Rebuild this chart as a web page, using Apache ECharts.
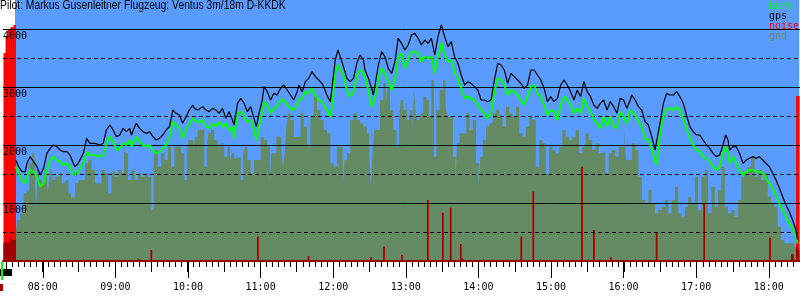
<!DOCTYPE html>
<html><head><meta charset="utf-8">
<script src="https://cdn.jsdelivr.net/npm/echarts@6/dist/echarts.min.js"></script>
<style>html,body{margin:0;padding:0;background:#fff}#c{width:800px;height:300px}</style>
</head><body><div id="c"></div>
<script>
const titleText = 'Pilot: Markus Gusenleitner Flugzeug: Ventus 3m/18m D-KKDK';
// times in minutes after midnight
const axisStart = 447.7, axisEnd = 1105.2;
const flightStart = 457.0;
const yLabelTicks = [1000, 2000, 3000, 4000];
const hourLabels = ['08:00','09:00','10:00','11:00','12:00','13:00','14:00','15:00','16:00','17:00','18:00'];

const fixTimes = [
457.6,460.0,462.8,465.5,466.9,468.2,469.6,472.4,475.1,477.8,480.6,483.3,486.1,488.8,491.5,494.3,497.0,499.8,502.5,505.2,506.6,509.3,513.5,516.2,518.9,523.0,527.2,529.9,532.6,535.4,538.1,540.8,543.6,546.3,549.1,551.8,553.2,555.9,557.3,560.0,562.8,565.5,568.2,571.0,573.7,576.5,579.2,581.9,584.7,587.4,590.2,592.9,595.6,598.4,601.1,603.9,605.2,608.0,
612.1,614.8,617.6,620.3,623.1,625.8,628.5,631.3,634.0,636.8,638.1,640.9,643.6,646.3,649.1,651.8,654.6,656.5,658.7,661.4,662.8,665.5,668.3,671.0,673.7,676.5,679.2,682.0,684.7,687.4,690.2,691.6,694.3,697.0,699.8,702.5,705.3,708.0,710.7,712.1,714.8,717.6,719.0,721.7,723.9,725.8,728.5,731.3,734.0,736.8,739.5,742.2,745.0,746.3,749.1,751.8,753.2,754.6,757.3,760.0,762.8,765.5,768.3,771.0,773.7,776.5,
779.2,782.0,784.7,787.5,790.2,792.9,795.7,798.4,801.2,803.9,806.6,809.4,812.1,814.9,817.6,820.3,823.1,825.8,828.6,831.3,834.0,836.8,839.5,842.3,845.0,847.7,850.5,853.2,856.0,858.7,861.4,864.2,866.9,869.7,872.4,875.1,877.9,880.6,883.4,886.1,888.8,891.6,894.3,897.1,899.8,902.5,905.3,908.0,910.8,913.5,916.2,919.0,921.7,924.5,927.2,929.9,932.7,935.4,938.2,
940.8,943.5,946.3,949.0,951.8,954.5,957.2,960.0,962.7,965.5,966.8,969.6,972.3,975.0,977.8,980.5,983.3,986.0,987.4,990.1,992.9,995.6,998.3,1001.1,1003.8,1006.6,1009.3,1012.0,1014.8,1017.5,1020.3,1023.0,1025.7,1028.5,1031.2,1034.0,1036.7,1039.4,1042.2,1044.4,1046.3,1047.7,1050.4,1053.1,1055.9,1058.6,1061.4,1064.1,1066.8,1069.6,1072.3,1075.1,1077.8,1080.5,1083.3,1086.0,1088.8,1091.5,1094.2,1097.0,1099.7,1102.5,1103.8
];
const gpsAlt = [
1741,1626,1540,1540,1684,1741,1799,1713,1626,1483,1598,1856,1942,2000,1971,1914,1885,1885,1828,1684,1626,1684,1856,2115,2029,2029,2000,2029,2259,2345,2259,2144,2172,2287,2230,2287,2172,2316,2374,2287,2230,2201,2230,2144,2086,2115,2172,2259,2316,2603,2546,2517,2374,2488,2603,2690,2632,2603,
2661,2603,2575,2632,2603,2546,2632,2460,2575,2431,2345,2718,2804,2718,2575,2661,2460,2316,2546,2776,3006,2919,2776,2891,2862,2977,3034,2948,2862,2776,2919,3034,2919,3092,3149,3264,3178,3121,3063,3006,2862,2747,2776,3465,3638,3523,3350,3149,3092,3149,3408,3552,3465,3293,3149,2977,2862,3034,3379,3609,3523,3322,3236,3437,3839,3753,
3638,3724,3896,3925,3839,3724,3810,3753,3839,3552,3868,4069,3868,3695,3781,3523,3408,3207,3034,3092,3063,3006,2948,2776,2776,2747,2776,3121,3408,3379,3293,3063,3236,3178,3121,3063,2977,3034,3293,3293,3207,3121,2977,2747,2833,2747,2804,3034,3121,3034,2919,2776,2948,2833,3092,2919,2833,2690,2632,
2718,2776,2603,2747,2661,2546,2804,2776,2632,2776,2862,2776,2661,2603,2402,2345,2144,1914,1885,2374,2718,2891,2862,2862,2919,2833,2718,2517,2316,2230,2172,2172,2086,2000,1942,1856,1799,1828,2000,2172,2086,1914,1971,1971,1856,1684,1741,1770,1799,1770,1799,1741,1684,1626,1511,1396,1253,1109,965,850,707,534,362
];
const baroAlt = [
1626,1511,1396,1339,1454,1511,1569,1540,1454,1282,1339,1569,1741,1799,1741,1713,1655,1684,1626,1483,1454,1540,1684,1885,1828,1828,1799,1828,2029,2144,2057,1914,1942,2029,2000,2086,1971,2086,2144,2057,2000,1971,2000,1914,1856,1885,1942,2000,2115,2402,2345,2287,2115,2259,2374,2460,2431,2385,
2431,2316,2287,2374,2316,2402,2316,2374,2259,2316,2115,2546,2575,2488,2402,2431,2259,2086,2316,2546,2747,2690,2546,2632,2661,2776,2776,2690,2632,2603,2690,2776,2804,2919,2891,2977,2862,2776,2747,2730,2603,2488,2661,3236,3379,3322,3178,2948,2833,2919,3207,3293,3236,3149,2948,2661,2632,2804,3149,3322,3236,3092,2948,3121,3523,3580,
3322,3465,3609,3609,3580,3437,3523,3494,3523,3236,3523,3753,3552,3437,3465,3264,3149,2977,2804,2833,2804,2776,2690,2603,2546,2460,2546,2919,3149,3121,3034,2862,2948,2919,2862,2776,2690,2833,3006,3034,2891,2833,2690,2517,2603,2575,2431,2690,2833,2776,2690,2546,2632,2546,2804,2661,2575,2431,2374,
2287,2488,2316,2488,2316,2287,2575,2488,2374,2603,2632,2517,2402,2316,2115,2086,1942,1713,1655,2201,2488,2632,2632,2603,2661,2603,2460,2287,2115,2000,1914,1885,1799,1770,1713,1626,1569,1626,1856,1971,1856,1684,1799,1684,1569,1483,1540,1569,1569,1540,1540,1511,1425,1339,1253,1138,994,879,764,649,563,419,304
];
const gndTimes = [
447.7,452.6,453.4,
457.6,460.0,462.8,465.5,468.2,469.6,472.4,473.7,475.1,476.5,477.8,480.6,481.9,483.3,484.7,486.1,487.4,488.8,491.5,494.3,497.0,499.8,502.5,503.9,505.2,508.0,510.7,513.5,516.2,518.9,521.7,524.4,527.2,529.9,532.6,535.4,538.1,540.8,543.6,546.3,547.7,549.1,551.8,554.5,557.3,560.0,562.8,565.5,568.2,571.0,572.4,573.7,576.5,579.2,581.9,584.7,587.4,590.2,592.9,595.6,598.4,599.7,601.1,603.9,605.2,606.6,609.3,
612.1,614.8,616.2,617.6,620.3,623.1,625.8,628.5,631.3,634.0,635.4,636.8,639.5,642.2,645.0,646.3,647.7,650.5,653.2,655.9,658.7,661.4,664.2,666.9,668.3,669.6,672.4,673.7,676.5,677.9,679.2,680.6,682.0,683.3,686.1,688.8,691.6,694.3,697.0,699.8,702.5,705.3,708.0,710.7,713.5,716.2,719.0,721.7,724.4,727.2,728.5,729.9,732.7,735.4,738.1,740.9,743.6,746.3,749.1,750.5,751.8,753.2,754.6,757.3,760.0,762.8,764.2,765.5,768.3,771.0,773.7,775.1,
776.5,779.2,780.6,782.0,784.7,786.1,787.5,788.8,790.2,792.9,795.7,798.4,799.8,802.5,803.9,806.6,809.4,812.1,813.5,814.9,817.6,820.3,821.7,823.1,825.8,828.6,831.3,834.0,836.8,839.5,840.9,842.3,845.0,847.7,850.5,853.2,856.0,858.7,861.4,864.2,866.9,869.7,872.4,875.1,877.9,880.6,883.4,886.1,888.8,891.6,894.3,897.1,899.8,902.5,905.3,908.0,910.8,913.5,916.2,919.0,921.7,924.5,927.2,929.9,932.7,935.4,938.2,
940.8,943.5,946.3,949.0,951.8,954.5,957.2,960.0,961.4,962.7,965.5,968.2,970.9,973.7,976.4,979.2,981.9,984.6,987.4,990.1,992.9,995.6,998.3,1001.1,1003.8,1006.6,1009.3,1012.0,1014.8,1017.5,1020.3,1023.0,1025.7,1028.5,1031.2,1034.0,1036.7,1039.4,1042.2,1044.9,1047.7,1050.4,1053.1,1055.9,1058.6,1061.4,1064.1,1066.8,1069.6,1072.3,1075.1,1077.8,1080.5,1083.3,1086.0,1088.8,1091.5,1094.2,1097.0,1099.7,1102.5,1103.8
];
const gndAlt = [
316,419,362,
506,707,822,1167,1224,1684,1856,1684,879,1569,1396,1339,1511,1626,1167,1454,1626,1396,1454,1511,1339,1396,1167,1052,1109,1339,1396,1396,1684,1741,1569,1339,1339,1569,1511,1167,1540,1454,1569,1511,1914,1856,1396,1569,1396,1511,1454,1511,1454,879,1799,1914,1626,1856,1741,1971,1626,1971,1971,1856,1396,1856,2086,2086,1914,2144,2259,
2259,1626,1971,2201,2259,2086,1971,2029,1799,1971,1741,1856,1770,1799,1396,1856,1971,1741,1511,1741,1741,2144,2086,1971,1339,1856,1856,2144,2144,1856,1626,1856,2316,2546,2431,2144,2144,2546,2316,1971,2488,2833,2603,2431,2259,2201,1684,1626,1971,1971,1282,1741,1856,2431,2546,2431,2374,2316,2201,1856,1282,1856,2259,2259,2776,3063,2718,3006,2603,2259,1971,2431,
2776,2603,2833,2431,2603,2259,2948,2546,2431,2546,2833,2776,2488,3121,1799,2603,2948,3121,2718,2488,2488,1799,1396,2029,2201,2201,2546,2259,2431,1684,1282,1799,2086,2316,2374,2546,2603,2488,2316,2661,2546,2488,2661,2201,2144,2316,2488,2431,1626,2086,2029,1511,1971,1914,1856,1971,2259,2144,2086,2144,2259,1856,1971,2201,2086,1914,2029,
1856,1885,1511,1856,1914,1799,1971,1971,2259,1741,1741,2029,1914,1454,1052,994,1224,994,822,879,937,1052,822,1052,1282,822,764,937,1109,994,1454,879,1454,1569,822,1282,937,1224,1626,937,822,879,764,1052,1454,1511,1626,1799,1454,1569,1396,1511,1109,994,937,592,362,305,305,305,247,190
];
const noiseTimes = [
448.1,448.9,449.8,450.6,451.4,452.2,453.0,453.9,454.7,455.5,456.3,457.2,
559.1,569.7,657.7,699.6,751.4,762.0,776.9,798.2,810.6,817.1,825.4,827.0,875.5,885.4,925.6,935.5,949.5,987.3,1026.7,1081.0,1099.1,1099.9,
1103.2,1104.0,1104.8
];
const noiseLevel = [
797,797,858,858,885,885,885,897,897,897,904,904,
8,42,93,19,13,55,23,234,185,204,65,9,93,266,361,119,13,108,218,89,26,26,
632,632,632
];

const BASE = Date.UTC(2000, 0, 1);
const ts = m => BASE + m * 60000;
const pairs = (t, v) => t.map((x, i) => [ts(x), v[i]]);
const NOISE_MAX = 1000, ALT_MAX = 4500;
function gndAt(m) {
  let v = gndAlt[0];
  for (let i = 0; i < gndTimes.length; i++) { if (gndTimes[i] <= m) v = gndAlt[i]; else break; }
  return v;
}
const noiseUnderGnd = noiseTimes.map((t, i) => [ts(t), Math.min(noiseLevel[i], gndAt(t) * NOISE_MAX / ALT_MAX)]);

// tick positions (clock times) for the time axis
const hourTicks = hourLabels.map(s => { const p = s.split(':'); return ts(+p[0] * 60 + +p[1]); });
function ticksEvery(step) {
  const out = [];
  for (let m = Math.ceil(axisStart / step) * step; m <= axisEnd; m += step) out.push(ts(m));
  return out;
}
const halfHourTicks = ticksEvery(30);
const fiveMinTicks = ticksEvery(5);

const MONO = 'DejaVu Sans Mono';
const BLUE = '#5a9bff', OLIVE = '#658b65', DARKRED = '#a00000';

const chart = echarts.init(document.getElementById('c'), null, {renderer: 'canvas'});
const xBase = {type: 'time', min: ts(axisStart), max: ts(axisEnd), position: 'bottom', splitLine: {show: false}};
chart.setOption({
  animation: false,
  useUTC: true,
  backgroundColor: '#ffffff',
  legend: {
    orient: 'vertical', left: 764, top: 1, padding: 0, itemGap: 0, itemWidth: 0, itemHeight: 10,
    selectedMode: false, icon: 'rect', z: 20,
    textStyle: {fontSize: 10, fontFamily: MONO, lineHeight: 10},
    data: [
      {name: 'baro', textStyle: {color: '#00ff00'}},
      {name: 'gps', textStyle: {color: '#000000'}},
      {name: 'noise', textStyle: {color: '#ff0000'}},
      {name: 'gnd', textStyle: {color: '#6b8b5b'}}
    ]
  },
  grid: {left: 0, right: 0, top: 0, bottom: 39, containLabel: false},
  xAxis: [
    Object.assign({}, xBase, {
      z: 6,
      axisLine: {show: true, lineStyle: {color: '#990000', width: 2}},
      axisTick: {show: true, length: 17, customValues: hourTicks, lineStyle: {color: '#000', width: 1}},
      axisLabel: {show: true, customValues: hourTicks, formatter: '{HH}:{mm}', margin: 21, fontSize: 10, fontFamily: MONO, color: '#000',
        hideOverlap: false}
    }),
    Object.assign({}, xBase, {
      z: 5,
      axisLine: {show: false}, axisLabel: {show: false},
      axisTick: {show: true, length: 11, customValues: halfHourTicks, lineStyle: {color: '#000', width: 1}}
    }),
    Object.assign({}, xBase, {
      z: 5,
      axisLine: {show: false}, axisLabel: {show: false},
      axisTick: {show: true, length: 6, customValues: fiveMinTicks, lineStyle: {color: '#000', width: 1}}
    })
  ],
  yAxis: [
    {type: 'value', min: 0, max: ALT_MAX, interval: 1000, z: 3,
      axisLine: {show: false}, axisTick: {show: false},
      splitLine: {show: true, showMinLine: false, showMaxLine: false, lineStyle: {color: '#000', width: 1}},
      axisLabel: {show: true, inside: true, margin: 0, verticalAlign: 'top', padding: [2, 0, 0, 0],
        fontSize: 10, fontFamily: MONO, color: '#000',
        formatter: v => yLabelTicks.includes(v) ? String(v) : ''}},
    {type: 'value', min: 0, max: NOISE_MAX, show: false},
    {type: 'value', min: 0, max: ALT_MAX, interval: 500, z: 3,
      axisLine: {show: false}, axisTick: {show: false}, axisLabel: {show: false},
      splitLine: {show: true, showMinLine: false, showMaxLine: false, lineStyle: {color: '#000', width: 1, type: [4, 3]}}}
  ],
  series: [
    {name: 'sky', type: 'line', data: [[ts(flightStart), 0]], symbol: 'none', lineStyle: {width: 0}, z: 0, silent: true,
      markArea: {silent: true, itemStyle: {color: BLUE, opacity: 1}, label: {show: false},
        data: [[{xAxis: ts(flightStart)}, {xAxis: ts(axisEnd)}]]}},
    {name: 'gnd', type: 'line', data: pairs(gndTimes, gndAlt), step: 'middle', symbol: 'none', z: 1,
      color: OLIVE, lineStyle: {width: 0, color: OLIVE}, areaStyle: {color: OLIVE, opacity: 1}},
    {name: 'noise', type: 'bar', yAxisIndex: 1, data: pairs(noiseTimes, noiseLevel), barWidth: 1.5, barGap: '-100%',
      color: '#ff0000', itemStyle: {color: '#ff0000'}, z: 2},
    {name: 'noiseLow', type: 'bar', yAxisIndex: 1, data: noiseUnderGnd, barWidth: 1.5, barGap: '-100%',
      itemStyle: {color: DARKRED}, z: 2},
    {name: 'baro', type: 'line', data: pairs(fixTimes, baroAlt), symbol: 'none', z: 7,
      color: '#00ff00', lineStyle: {color: '#00ff00', width: 2}},
    {name: 'gps', type: 'line', data: pairs(fixTimes, gpsAlt), symbol: 'none', z: 8,
      color: '#000000', lineStyle: {color: '#000000', width: 1.2}}
  ],
  graphic: [
    {type: 'text', x: 0, y: 0, scaleX: 0.86, z: 20,
      style: {text: titleText, fontSize: 12, fontFamily: 'Liberation Sans', fill: '#000', align: 'left', verticalAlign: 'top'}},
    {type: 'rect', left: 0, top: 269, shape: {width: 12, height: 7}, style: {fill: '#000'}},
    {type: 'rect', left: 1, top: 262, shape: {width: 2, height: 18}, style: {fill: '#00ff00'}},
    {type: 'rect', left: 0, top: 284, shape: {width: 3, height: 7}, style: {fill: DARKRED}}
  ]
});
</script></body></html>
